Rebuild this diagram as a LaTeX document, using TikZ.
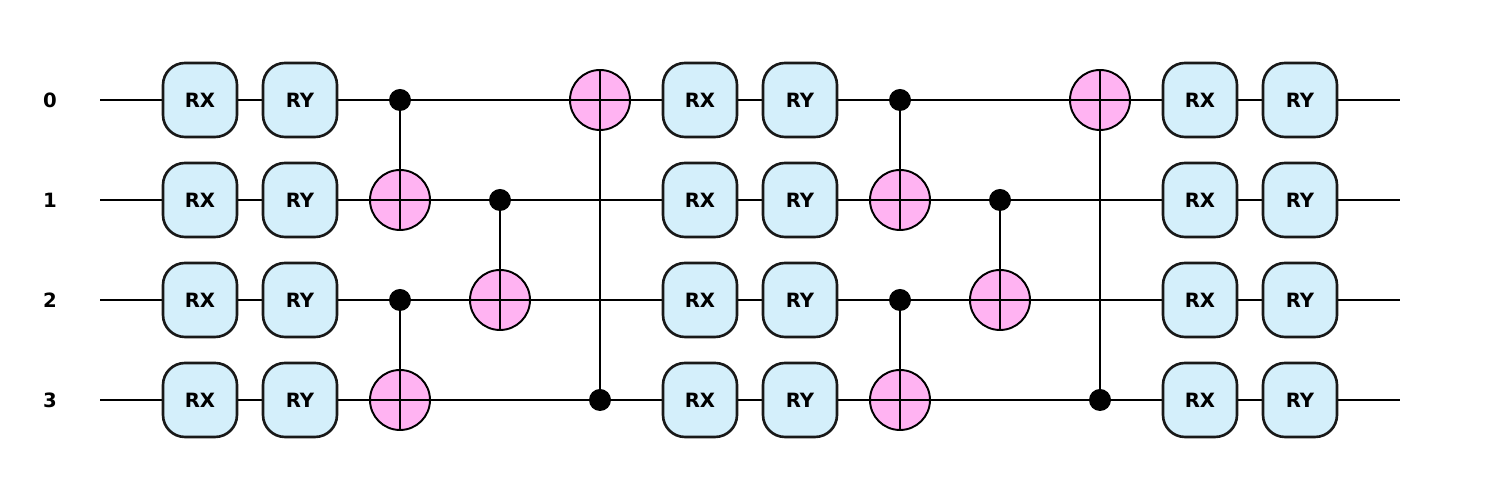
\documentclass[tikz,border=0pt]{standalone}
\usepackage{fontspec}
\setmainfont{DejaVu Sans}
\definecolor{gatefill}{HTML}{D4EFFB}
\definecolor{targfill}{HTML}{FFB3F2}
\tikzset{
  wire/.style={line width=0.55pt},
  gate/.style={draw=black!90, line width=0.75pt, fill=gatefill, rounded corners=2.2mm,
    minimum width=7.4mm, minimum height=7.4mm, inner sep=0pt, font=\fontsize{5.6}{6}\selectfont\bfseries},
  ctrl/.style={circle, fill=black, minimum size=2.2mm, inner sep=0pt},
  targ/.style={circle, draw=black, line width=0.55pt, fill=targfill, minimum size=6mm, inner sep=0pt},
  qlabel/.style={font=\fontsize{5.6}{6}\selectfont\bfseries}
}
\newcommand{\cnot}[3]{% column, control, target
  \node[ctrl] (c#1) at (#1,4-#2) {};
  \node[targ] (t#1) at (#1,4-#3) {};
  \draw[wire] (c#1.center) -- (t#1.south |- 0,4-#3-0.3);
  \draw[wire] (t#1.west) -- (t#1.east);
  \draw[wire] (t#1.north) -- (t#1.south);
}
\begin{document}
\begin{tikzpicture}
  \useasboundingbox (0,-1) rectangle (15,4);
  % wires and labels
  \foreach \q in {0,...,3} {
    \node[qlabel] (l\q) at (0.5,3-\q) {\q};
    \coordinate (w\q a) at (1,3-\q);
    \coordinate (w\q b) at (14,3-\q);
    \draw[wire] (w\q a) -- (w\q b);
  }
  % rotation layers
  \foreach \x in {2,7,12} {
    \foreach \q in {0,...,3} {
      \node[gate] (rx\x\q) at (\x,3-\q) {RX};
      \node[gate] (ry\x\q) at (\x+1,3-\q) {RY};
    }
  }
  % entangling layers
  \foreach \x in {4,9} {
    \pgfmathtruncatemacro{\y}{\x+1}
    \pgfmathtruncatemacro{\z}{\x+2}
    \node[ctrl] (c\x a) at (\x,3) {};
    \node[targ] (t\x a) at (\x,2) {};
    \draw[wire] (c\x a.center) -- (t\x a.south);
    \draw[wire] (t\x a.west) -- (t\x a.east);
    \node[ctrl] (c\x b) at (\x,1) {};
    \node[targ] (t\x b) at (\x,0) {};
    \draw[wire] (c\x b.center) -- (t\x b.south);
    \draw[wire] (t\x b.west) -- (t\x b.east);
    \node[ctrl] (c\y) at (\y,2) {};
    \node[targ] (t\y) at (\y,1) {};
    \draw[wire] (c\y.center) -- (t\y.south);
    \draw[wire] (t\y.west) -- (t\y.east);
    \node[ctrl] (c\z) at (\z,0) {};
    \node[targ] (t\z) at (\z,3) {};
    \draw[wire] (c\z.center) -- (t\z.north);
    \draw[wire] (t\z.west) -- (t\z.east);
  }
\end{tikzpicture}
\end{document}
